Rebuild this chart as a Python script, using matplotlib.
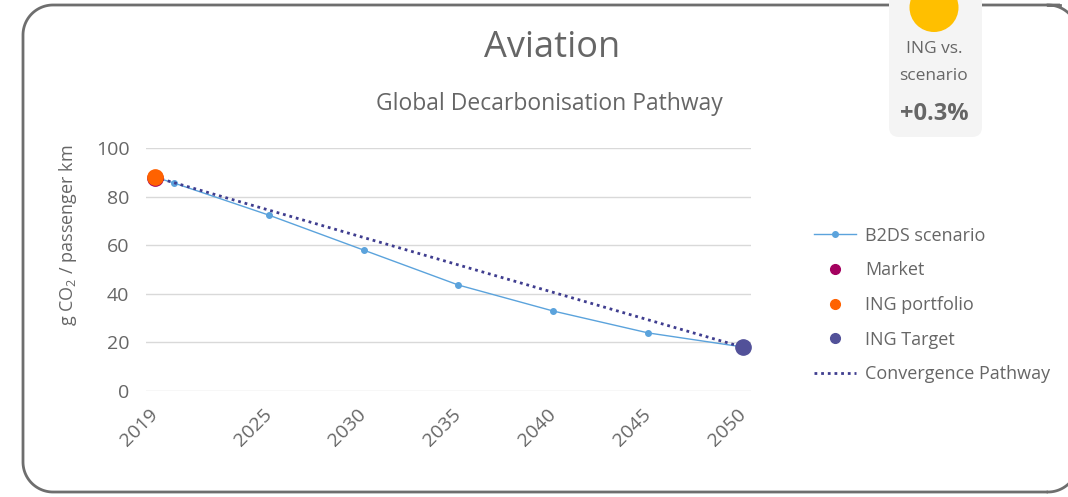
import numpy as np
import matplotlib
matplotlib.use('Agg')
import matplotlib.pyplot as plt
from matplotlib.patches import FancyBboxPatch, Circle
from matplotlib.lines import Line2D

plt.rcParams['font.family'] = ['Open Sans', 'DejaVu Sans']
plt.rcParams['mathtext.default'] = 'regular'

# data
b2ds_years = [2019, 2020, 2025, 2030, 2035, 2040, 2045, 2050]
b2ds_vals = [88.0, 85.6, 72.4, 58.0, 43.6, 32.9, 23.9, 18.1]
conv_years = [2019, 2050]
conv_vals = [88.0, 18.0]
market_year, market_val = [2019], [87.6]
portfolio_year, portfolio_val = [2019], [88.1]
target_year, target_val = [2050], [18.1]
tick_years = [2019, 2025, 2030, 2035, 2040, 2045, 2050]

W, H = 1068, 497
fig = plt.figure(figsize=(W / 100, H / 100), dpi=100)

def fx(x):
    return x / W

def fy(y):
    return 1 - y / H

txt = '#666666'
c_b2ds = '#5BA3DC'
c_market = '#A4005F'
c_port = '#FF6200'
c_target = '#525199'
c_conv = '#3F3D8F'

# background axes in pixel units for the frame and the score box
bg = fig.add_axes([0, 0, 1, 1], zorder=-1)
bg.set_xlim(0, W)
bg.set_ylim(H, 0)
bg.axis('off')

# frame, its right side runs off the canvas
r = 30
x0, y0, y1 = 23, 5, 492
t = np.linspace(0, np.pi / 2, 30)
frame_x = np.concatenate([[1060], x0 + r - r * np.sin(t), x0 + r - r * np.cos(t), [1048]])
frame_y = np.concatenate([[y0], y0 + r - r * np.cos(t), y1 - r + r * np.sin(t), [y1]])
bg.plot(frame_x, frame_y, color='#6e6e6e', lw=2, solid_capstyle='butt')
# right corners curving out of the picture
cx, cy = 1048, y0 + r
bg.plot(cx + r * np.sin(t), cy - r * np.cos(t), color='#6e6e6e', lw=2, clip_on=False)
bg.plot([1048, 1060], [y0, y0], color='#6e6e6e', lw=2)
bg.plot(cx + r * np.sin(t), y1 - r + r * np.cos(t), color='#6e6e6e', lw=2, clip_on=False)

bg.add_patch(FancyBboxPatch((889, -30), 982 - 889, 167,
                            boxstyle='round,pad=0,rounding_size=10',
                            fc='#f4f4f4', ec='none', clip_on=False, zorder=3))
bg.add_patch(Circle((934, 7.5), 24.5, fc='#FFBF00', ec='none', clip_on=False, zorder=4))
bg.text(934, 49, 'ING vs.', ha='center', va='center', fontsize=12.5, color=txt, zorder=5)
bg.text(934, 76, 'scenario', ha='center', va='center', fontsize=12.5, color=txt, zorder=5)
bg.text(934, 114, '+0.3%', ha='center', va='center', fontsize=17,
        fontweight='bold', color=txt, zorder=5)

# titles
bg.text(552, 48, 'Aviation', ha='center', va='center', fontsize=26, color=txt)
bg.text(549, 104, 'Global Decarbonisation Pathway', ha='center',
        va='center', fontsize=16.5, color=txt)
bg.text(68, 235, 'g CO$_2$ / passenger km', rotation=90, ha='center',
        va='center', fontsize=13, color=txt)

ax = fig.add_axes([fx(146), fy(391), fx(751 - 146), (391 - 148) / H])
ax.set_xlim(2018.53, 2050.42)
ax.set_ylim(0, 100)
ax.set_yticks(np.arange(0, 101, 20))
ax.grid(axis='y', color='#d9d9d9', lw=1)
ax.set_axisbelow(True)
ax.patch.set_alpha(0)
for s in ax.spines.values():
    s.set_visible(False)
ax.tick_params(length=0, colors=txt, labelsize=14)
ax.tick_params(axis='y', pad=12)
ax.set_xticks(tick_years)
ax.set_xticklabels([str(y) for y in tick_years], rotation=45, ha='right', va='center',
                   rotation_mode='anchor', fontsize=14)
ax.tick_params(axis='x', pad=15)

ax.plot(b2ds_years, b2ds_vals, color=c_b2ds, lw=1, marker='o', ms=4,
        clip_on=False, zorder=3)
ax.plot(conv_years, conv_vals, color=c_conv, lw=2, ls=(0, (1, 1.4)),
        clip_on=False, zorder=4)
ax.plot(market_year, market_val, 'o', color=c_market, ms=11, clip_on=False, zorder=5)
ax.plot(portfolio_year, portfolio_val, 'o', color=c_port, ms=11, clip_on=False, zorder=6)
ax.plot(target_year, target_val, 'o', color=c_target, ms=11, clip_on=False, zorder=6)

handles = [
    Line2D([], [], color=c_b2ds, lw=1, marker='o', ms=4),
    Line2D([], [], color=c_market, lw=0, marker='o', ms=7),
    Line2D([], [], color=c_port, lw=0, marker='o', ms=7),
    Line2D([], [], color=c_target, lw=0, marker='o', ms=7),
    Line2D([], [], color=c_conv, lw=2, ls=(0, (1, 1.4))),
]
labels = ['B2DS scenario', 'Market', 'ING portfolio', 'ING Target', 'Convergence Pathway']
fig.legend(handles, labels, loc='center left', bbox_to_anchor=(fx(798), fy(305)),
           frameon=False, fontsize=13, labelcolor=txt, handlelength=2.3,
           labelspacing=0.92, handletextpad=0.5)

fig.savefig('out.png', dpi=100)
